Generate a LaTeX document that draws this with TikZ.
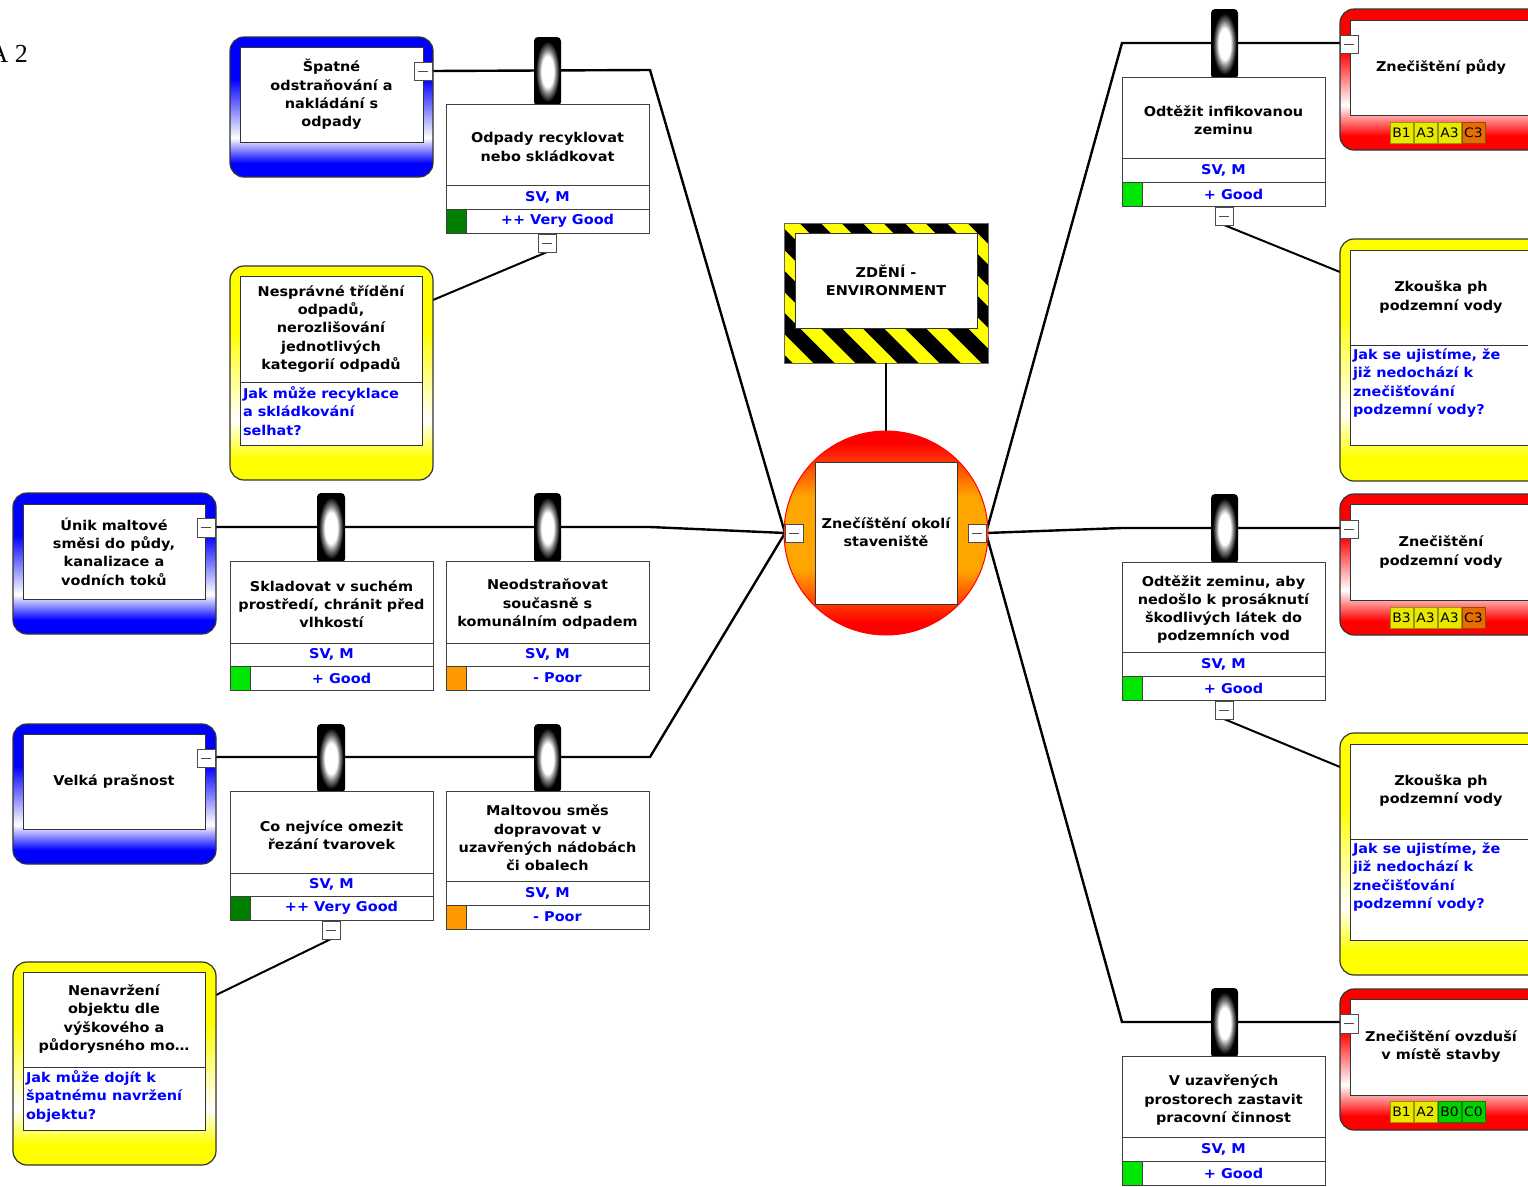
\documentclass[tikz,border=0pt]{standalone}
\usepackage{fontspec}
\setmainfont{DejaVu Sans}[FakeStretch=1.07]
\newfontfamily\timesf{Liberation Serif}
\definecolor{qblue}{RGB}{0,0,255}
\definecolor{pblue}{RGB}{0,0,255}
\definecolor{pyellow}{RGB}{255,255,0}
\definecolor{pred}{RGB}{255,0,0}
\definecolor{vgood}{RGB}{0,128,0}
\definecolor{good}{RGB}{0,230,0}
\definecolor{poor}{RGB}{255,153,0}
\definecolor{ryel}{RGB}{232,232,0}
\definecolor{rorange}{RGB}{230,110,0}
\definecolor{rgreen}{RGB}{0,210,0}
\definecolor{torange}{RGB}{255,165,0}
\pgfdeclareverticalshading{bluefade}{100bp}{color(0bp)=(pblue); color(30bp)=(pblue); color(39bp)=(white); color(60bp)=(pblue); color(100bp)=(pblue)}
\pgfdeclareverticalshading{yellowfade}{100bp}{color(0bp)=(pyellow); color(30bp)=(pyellow); color(39bp)=(white); color(60bp)=(pyellow); color(100bp)=(pyellow)}
\pgfdeclareverticalshading{redfade}{100bp}{color(0bp)=(pred); color(30bp)=(pred); color(41bp)=(white); color(60bp)=(pred); color(100bp)=(pred)}
\pgfdeclareradialshading{cylshade}{\pgfpoint{0bp}{0bp}}{color(0bp)=(white); color(11bp)=(white); color(16bp)=(black!50); color(22bp)=(black); color(50bp)=(black)}
\pgfdeclareverticalshading{topevent}{100bp}{color(0bp)=(pred); color(28bp)=(pred); color(41bp)=(torange); color(59bp)=(torange); color(72bp)=(pred); color(100bp)=(pred)}
\newcommand\bx[6]{\node[#1,minimum width={(#4)-(#2)},minimum height={(#5)-(#3)}] (#6) at ({((#2)+(#4))/2},{((#3)+(#5))/2}) {};}
\tikzset{
  every node/.style={inner sep=0pt, outer sep=0pt},
  othreat/.style={rectangle, draw=black!80, line width=1.2pt, rounded corners=14pt, shade, shading=bluefade},
  oesc/.style={rectangle, draw=black!80, line width=1.2pt, rounded corners=14pt, shade, shading=yellowfade},
  ocons/.style={rectangle, draw=black!80, line width=1.2pt, rounded corners=14pt, shade, shading=redfade},
  inbox/.style={rectangle, draw=black!80, fill=white, line width=1pt},
  cell/.style={rectangle, draw=black!75, fill=white, line width=1pt},
  sq/.style={rectangle, draw=black!75, fill=#1, line width=1pt},
  cyl/.style={rectangle, rounded corners=4pt, shade, shading=cylshade},
  coll/.style={rectangle, draw=black!70, fill=white, line width=0.9pt,
    path picture={\draw[line width=1pt] ([xshift=-5pt]path picture bounding box.center) -- ([xshift=5pt]path picture bounding box.center);}},
  conn/.style={line width=2.4pt, draw=black, line join=miter},
  txt/.style={font=\bfseries\fontsize{13.5}{18.3}\selectfont, align=center},
  btxt/.style={txt, text=qblue},
  qtxt/.style={font=\bfseries\fontsize{13.5}{18.3}\selectfont, text=qblue, align=left, anchor=north west},
  risk/.style={rectangle, draw=#1!65!black, fill=#1, line width=0.8pt, minimum width=23pt, minimum height=21pt, font=\fontsize{13}{14}\selectfont},
}
\begin{document}
\begin{tikzpicture}[x=1pt,y=-1pt]
\useasboundingbox (0,0) rectangle (1528,1186);
\fill[white] (0,0) rectangle (1528,1186);
\node[font=\timesf\fontsize{26}{26}\selectfont, anchor=base east] (pg) at (28,62) {A 2};

% ---------- coordinates for connectors
\coordinate (k1) at (650,70);
\coordinate (k2) at (650,527);
\coordinate (k3) at (650,757);
\coordinate (k4) at (1122,43);
\coordinate (k5) at (1122,528);
\coordinate (k6) at (1122,1022);
\coordinate (tl) at (785,533);
\coordinate (tr) at (986,533);
\coordinate (t1e) at (432,71);
\coordinate (t2e) at (215,527);
\coordinate (t3e) at (215,757);
\coordinate (c1w) at (1340,43);
\coordinate (c2w) at (1340,528);
\coordinate (c3w) at (1340,1022);

% ---------- main connectors
\draw[conn] (t1e) -- (k1) -- (tl);
\draw[conn] (t2e) -- (k2) -- (tl);
\draw[conn] (t3e) -- (k3) -- (tl);
\draw[conn] (tr) -- (k4) -- (c1w);
\draw[conn] (tr) -- (k5) -- (c2w);
\draw[conn] (tr) -- (k6) -- (c3w);

% ---------- escalation links
\coordinate (e1p) at (433,300);
\coordinate (e2p) at (216,995);
\coordinate (re1p) at (1340,272);
\coordinate (re2p) at (1340,767);
\coordinate (b1cs) at (547,252);
\coordinate (b3cs) at (331,939);
\coordinate (rb1cs) at (1224,225);
\coordinate (rb2cs) at (1224,719);
\draw[conn, line width=2pt] (b1cs) -- (e1p);
\draw[conn, line width=2pt] (b3cs) -- (e2p);
\draw[conn, line width=2pt] (rb1cs) -- (re1p);
\draw[conn, line width=2pt] (rb2cs) -- (re2p);

% ---------- hazard
\bx{rectangle, fill=pyellow}{784}{223}{988}{363}{hz}
\begin{scope}
\clip (784,223) rectangle (988,363);
\foreach \s in {-6,...,6} \draw[black, line width=15pt] ({800+42*\s},213) -- ++(180,180);
\end{scope}
\bx{rectangle, draw=black!60, line width=0.8pt}{784}{223}{988}{363}{hzb}
\bx{inbox}{795}{233}{977}{328}{hzi}
\node[txt] (hzt) at (886,280) {ZDĚNÍ -\\ENVIRONMENT};
\draw[conn] (hz.south) -- (886,431);

% ---------- top event
\node[circle, draw=pred, line width=1pt, minimum size=204pt, shade, shading=topevent] (te) at (886,533) {};
\bx{inbox}{815}{462}{957}{604}{tei}
\node[txt] (tet) at (886,532) {Znečíštění okolí\\staveniště};
\bx{coll}{785}{524}{803}{542}{tel}
\bx{coll}{968}{524}{986}{542}{ter}

% ---------- threat 1
\bx{othreat}{230}{37}{433}{177}{t1}
\bx{inbox}{240}{47}{423}{142}{t1i}
\node[txt] (t1t) at (331.5,94.5) {Špatné\\odstraňování a\\nakládání s\\odpady};
\bx{coll}{414}{62}{432}{80}{t1c}

% barrier 1
\bx{cyl}{534}{37}{561}{106}{b1y}
\bx{cell}{446}{104}{649}{185}{b1t}
\bx{cell}{446}{185}{649}{209}{b1s}
\bx{cell}{446}{209}{649}{233}{b1e}
\bx{sq=vgood}{446}{209}{466}{233}{b1q}
\bx{coll}{538}{234}{556}{252}{b1c}
\node[txt] (b1tt) at (547.5,147) {Odpady recyklovat\\nebo skládkovat};
\node[btxt] (b1st) at (547.5,197) {SV, M};
\node[btxt] (b1et) at (557.5,221) {++ Very Good};

% escalation 1
\bx{oesc}{230}{266}{433}{480}{e1}
\bx{inbox}{240}{276}{422}{382}{e1t}
\bx{inbox}{240}{382}{422}{445}{e1b}
\node[txt] (e1tt) at (331,329) {Nesprávné třídění\\odpadů,\\nerozlišování\\jednotlivých\\kategorií odpadů};
\node[qtxt] (e1q) at (243,386.5) {Jak může recyklace\\a skládkování\\selhat?};

% ---------- threat 2
\bx{othreat}{13}{493}{216}{634}{t2}
\bx{inbox}{23}{504}{205}{599}{t2i}
\node[txt] (t2t) at (114,551.5) {Únik maltové\\směsi do půdy,\\kanalizace a\\vodních toků};
\bx{coll}{197}{518}{215}{537}{t2c}

% barrier 2a
\bx{cyl}{317}{493}{345}{563}{b2y}
\bx{cell}{230}{561}{433}{643}{b2t}
\bx{cell}{230}{643}{433}{666}{b2s}
\bx{cell}{230}{666}{433}{690}{b2e}
\bx{sq=good}{230}{666}{250}{690}{b2q}
\node[txt] (b2tt) at (331.5,604) {Skladovat v suchém\\prostředí, chránit před\\vlhkostí};
\node[btxt] (b2st) at (331.5,654.5) {SV, M};
\node[btxt] (b2et) at (341.5,678) {+ Good};

% barrier 2b
\bx{cyl}{534}{493}{561}{563}{b4y}
\bx{cell}{446}{561}{649}{643}{b4t}
\bx{cell}{446}{643}{649}{666}{b4s}
\bx{cell}{446}{666}{649}{690}{b4e}
\bx{sq=poor}{446}{666}{466}{690}{b4q}
\node[txt] (b4tt) at (547.5,604) {Neodstraňovat\\současně s\\komunálním odpadem};
\node[btxt] (b4st) at (547.5,654.5) {SV, M};
\node[btxt] (b4et) at (557.5,678) {- Poor};

% ---------- threat 3
\bx{othreat}{13}{724}{216}{864}{t3}
\bx{inbox}{23}{734}{205}{829}{t3i}
\node[txt] (t3t) at (114,781.5) {Velká prašnost};
\bx{coll}{197}{749}{215}{767}{t3c}

% barrier 3a
\bx{cyl}{317}{724}{345}{793}{b3y}
\bx{cell}{230}{791}{433}{873}{b3t}
\bx{cell}{230}{873}{433}{896}{b3s}
\bx{cell}{230}{896}{433}{920}{b3e}
\bx{sq=vgood}{230}{896}{250}{920}{b3q}
\bx{coll}{322}{921}{340}{939}{b3c}
\node[txt] (b3tt) at (331.5,835) {Co nejvíce omezit\\řezání tvarovek};
\node[btxt] (b3st) at (331.5,884.5) {SV, M};
\node[btxt] (b3et) at (341.5,908) {++ Very Good};

% barrier 3b
\bx{cyl}{534}{724}{561}{793}{b5y}
\bx{cell}{446}{791}{649}{881}{b5t}
\bx{cell}{446}{881}{649}{905}{b5s}
\bx{cell}{446}{905}{649}{929}{b5e}
\bx{sq=poor}{446}{905}{466}{929}{b5q}
\node[txt] (b5tt) at (547.5,838) {Maltovou směs\\dopravovat v\\uzavřených nádobách\\či obalech};
\node[btxt] (b5st) at (547.5,893) {SV, M};
\node[btxt] (b5et) at (557.5,917) {- Poor};

% escalation 2
\bx{oesc}{13}{962}{216}{1165}{e2}
\bx{inbox}{23}{972}{205}{1067}{e2t}
\bx{inbox}{23}{1067}{205}{1130}{e2b}
\node[txt] (e2tt) at (114,1019) {Nenavržení\\objektu dle\\výškového a\\půdorysného mo…};
\node[qtxt] (e2q) at (26,1070.6) {Jak může dojít k\\špatnému navržení\\objektu?};

% ---------- right barrier 1
\bx{cyl}{1211}{9}{1238}{79}{rb1y}
\bx{cell}{1122}{77}{1325}{158}{rb1t}
\bx{cell}{1122}{158}{1325}{182}{rb1s}
\bx{cell}{1122}{182}{1325}{206}{rb1e}
\bx{sq=good}{1122}{182}{1142}{206}{rb1q}
\bx{coll}{1215}{207}{1233}{225}{rb1c}
\node[txt] (rb1tt) at (1223.5,120) {Odtěžit infikovanou\\zeminu};
\node[btxt] (rb1st) at (1223.5,170) {SV, M};
\node[btxt] (rb1et) at (1233.5,194) {+ Good};

% consequence 1
\bx{ocons}{1340}{9}{1543}{150}{c1}
\bx{inbox}{1350}{20}{1533}{115}{c1i}
\node[txt] (c1t) at (1441,67) {Znečištění půdy};
\bx{coll}{1340}{35}{1358}{53}{c1c}
\node[risk=ryel] (r11) at (1401.5,133) {B1};
\node[risk=ryel] (r12) at (1425.5,133) {A3};
\node[risk=ryel] (r13) at (1449.5,133) {A3};
\node[risk=rorange] (r14) at (1473.5,133) {C3};

% right escalation 1
\bx{oesc}{1340}{239}{1543}{481}{re1}
\bx{inbox}{1350}{250}{1533}{345}{re1t}
\bx{inbox}{1350}{345}{1533}{445}{re1b}
\node[txt] (re1tt) at (1441,297) {Zkouška ph\\podzemní vody};
\node[qtxt] (re1q) at (1353,348.6) {Jak se ujistíme, že\\již nedochází k\\znečišťování\\podzemní vody?};

% ---------- right barrier 2
\bx{cyl}{1211}{494}{1238}{564}{rb2y}
\bx{cell}{1122}{562}{1325}{652}{rb2t}
\bx{cell}{1122}{652}{1325}{676}{rb2s}
\bx{cell}{1122}{676}{1325}{700}{rb2e}
\bx{sq=good}{1122}{676}{1142}{700}{rb2q}
\bx{coll}{1215}{701}{1233}{719}{rb2c}
\node[txt] (rb2tt) at (1223.5,609.5) {Odtěžit zeminu, aby\\nedošlo k prosáknutí\\škodlivých látek do\\podzemních vod};
\node[btxt] (rb2st) at (1223.5,664) {SV, M};
\node[btxt] (rb2et) at (1233.5,688) {+ Good};

% consequence 2
\bx{ocons}{1340}{494}{1543}{635}{c2}
\bx{inbox}{1350}{504}{1533}{600}{c2i}
\node[txt] (c2t) at (1441,552) {Znečištění\\podzemní vody};
\bx{coll}{1340}{520}{1358}{538}{c2c}
\node[risk=ryel] (r21) at (1401.5,618) {B3};
\node[risk=ryel] (r22) at (1425.5,618) {A3};
\node[risk=ryel] (r23) at (1449.5,618) {A3};
\node[risk=rorange] (r24) at (1473.5,618) {C3};

% right escalation 2
\bx{oesc}{1340}{733}{1543}{975}{re2}
\bx{inbox}{1350}{744}{1533}{839}{re2t}
\bx{inbox}{1350}{839}{1533}{940}{re2b}
\node[txt] (re2tt) at (1441,790.5) {Zkouška ph\\podzemní vody};
\node[qtxt] (re2q) at (1353,842.6) {Jak se ujistíme, že\\již nedochází k\\znečišťování\\podzemní vody?};

% ---------- right barrier 3
\bx{cyl}{1211}{988}{1238}{1058}{rb3y}
\bx{cell}{1122}{1056}{1325}{1137}{rb3t}
\bx{cell}{1122}{1137}{1325}{1161}{rb3s}
\bx{cell}{1122}{1161}{1325}{1185}{rb3e}
\bx{sq=good}{1122}{1161}{1142}{1185}{rb3q}
\node[txt] (rb3tt) at (1223.5,1100) {V uzavřených\\prostorech zastavit\\pracovní činnost};
\node[btxt] (rb3st) at (1223.5,1149) {SV, M};
\node[btxt] (rb3et) at (1233.5,1173) {+ Good};

% consequence 3
\bx{ocons}{1340}{989}{1543}{1130}{c3}
\bx{inbox}{1350}{999}{1533}{1095}{c3i}
\node[txt] (c3t) at (1441,1046.5) {Znečištění ovzduší\\v místě stavby};
\bx{coll}{1340}{1014}{1358}{1033}{c3c}
\node[risk=ryel] (r31) at (1401.5,1112) {B1};
\node[risk=ryel] (r32) at (1425.5,1112) {A2};
\node[risk=rgreen] (r33) at (1449.5,1112) {B0};
\node[risk=rgreen] (r34) at (1473.5,1112) {C0};
\end{tikzpicture}
\end{document}
